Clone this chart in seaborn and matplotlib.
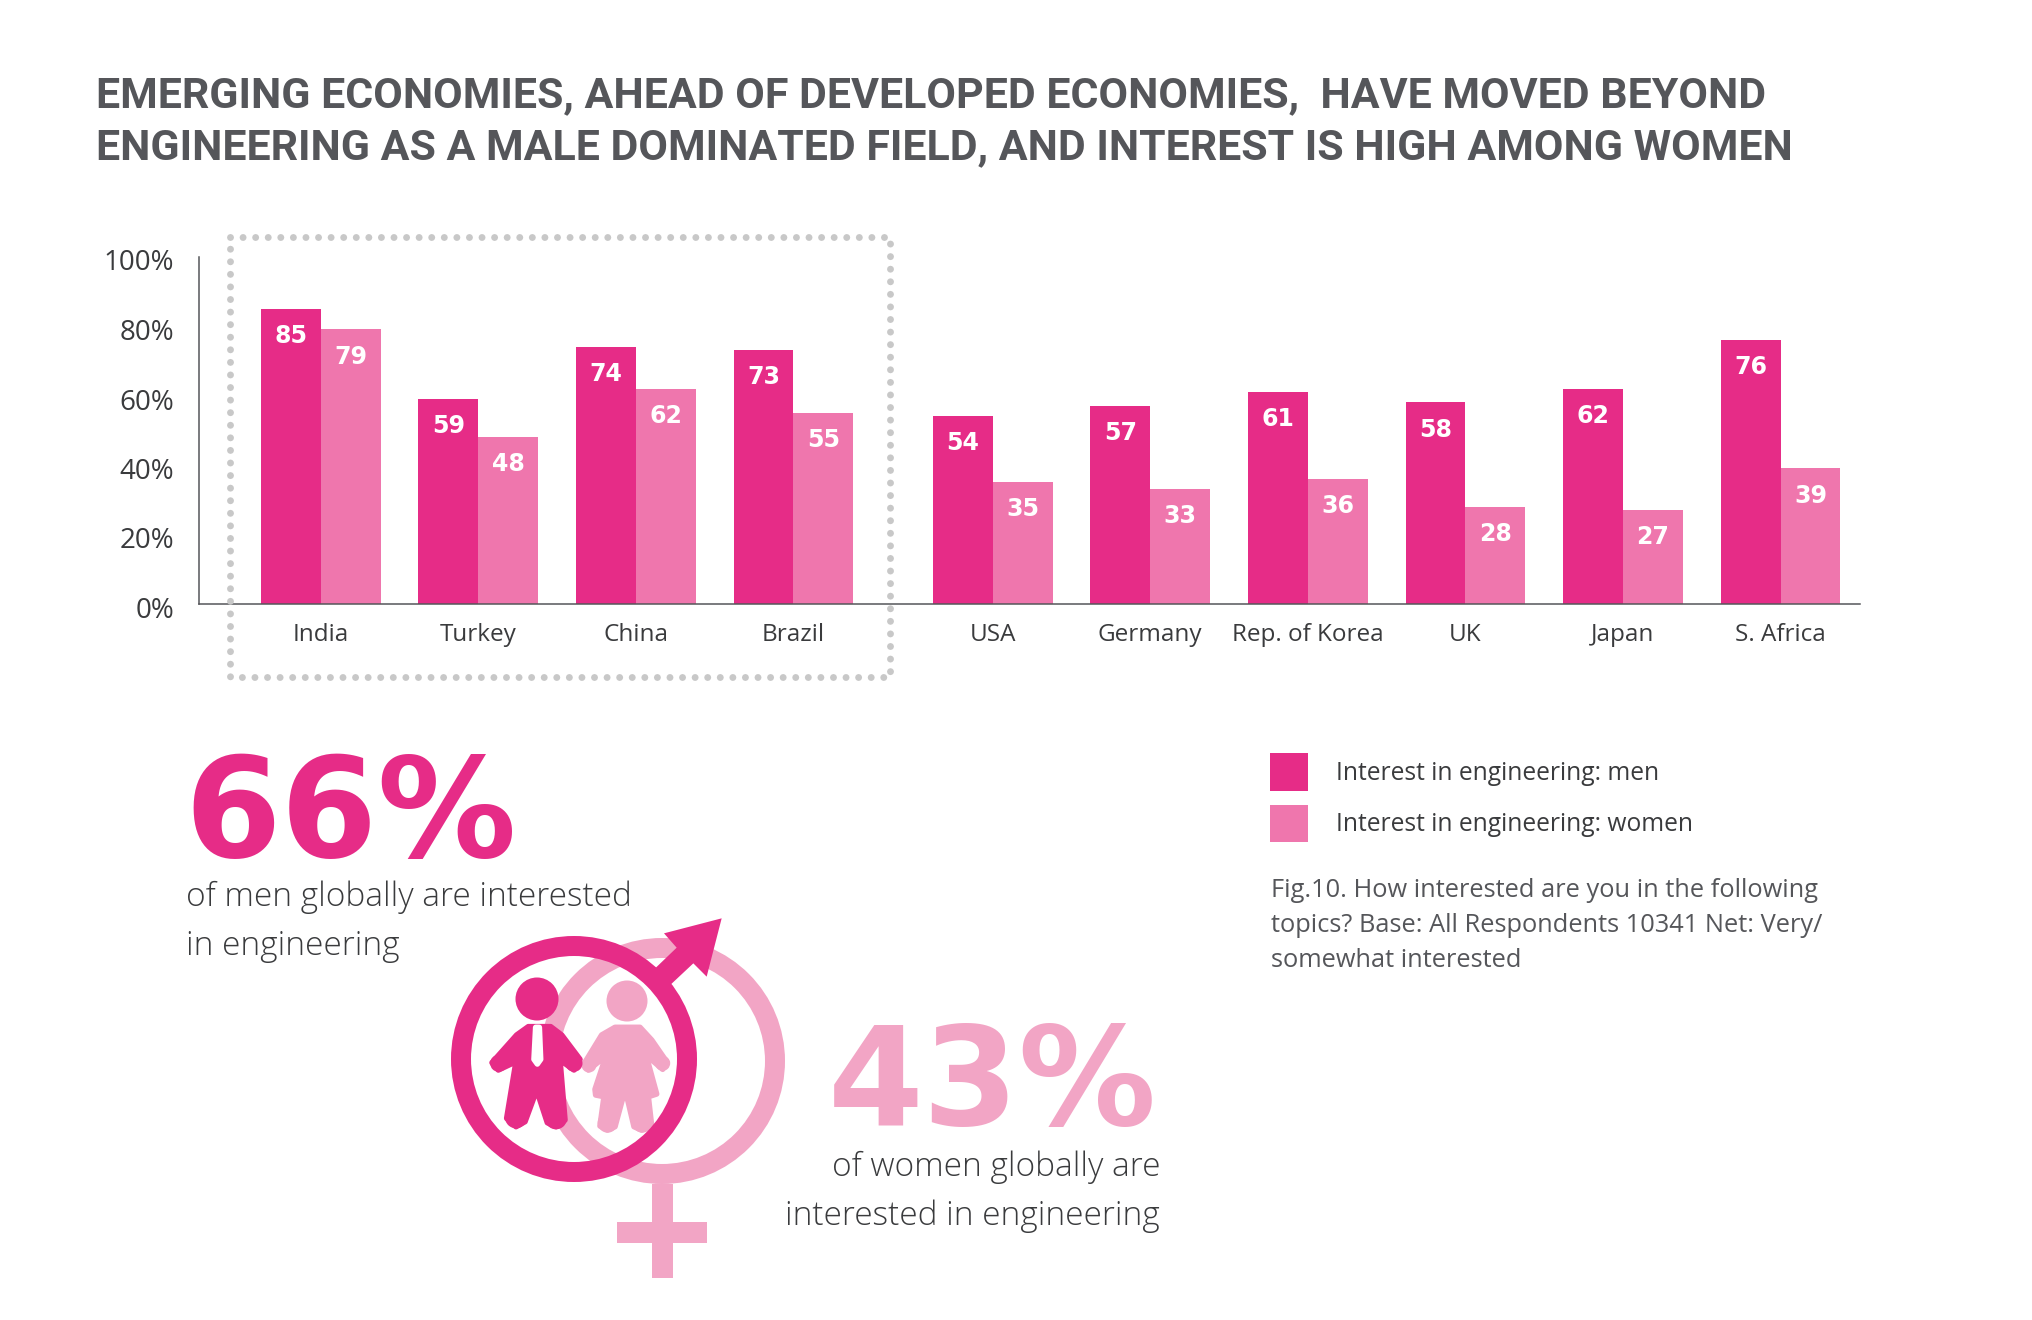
import matplotlib
matplotlib.use("Agg")
import matplotlib.pyplot as plt
from matplotlib.patches import Circle, Polygon, Rectangle
from matplotlib.transforms import ScaledTranslation
import numpy as np
import pandas as pd
import seaborn as sns

countries = ["India", "Turkey", "China", "Brazil", "USA", "Germany", "Rep. of Korea", "UK", "Japan", "S. Africa"]
men = [85, 59, 74, 73, 54, 57, 61, 58, 62, 76]
women = [79, 48, 62, 55, 35, 33, 36, 28, 27, 39]
y_ticks = [0, 20, 40, 60, 80, 100]

MEN_LABEL = "Interest in engineering: men"
WOMEN_LABEL = "Interest in engineering: women"

PINK = "#E62C87"
MID = "#EF76AD"
PALE = "#F2A5C5"
DARK = "#3A3B3D"
TITLE_GREY = "#55565A"
W, H = 2032, 1320

sns.set_theme(style="white")
plt.rcParams["font.family"] = ["Open Sans", "DejaVu Sans"]

fig = plt.figure(figsize=(W / 100, H / 100), dpi=100, facecolor="white")
ax = fig.add_axes([199 / W, 1 - 604 / H, (1860 - 199) / W, (604 - 256.5) / H])

# the first four countries sit apart from the others
pos = np.arange(len(countries)) + np.where(np.arange(len(countries)) >= 4, 0.264, 0.0)
df = pd.DataFrame({"pos": pos, MEN_LABEL: men, WOMEN_LABEL: women})
df = df.melt(id_vars="pos", var_name="series", value_name="value")

sns.barplot(
    data=df, x="pos", y="value", hue="series", native_scale=True,
    palette=[PINK, MID], width=0.76, gap=0, saturation=1, errorbar=None, linewidth=0, ax=ax,
)

ax.set_xlim(-0.772, 9.768)
ax.set_ylim(0, 100)
ax.set_xlabel("")
ax.set_ylabel("")
ax.set_xticks(pos)
ax.set_xticklabels(countries, fontsize=17.5, color=DARK)
ax.set_yticks(y_ticks)
ax.set_yticklabels([f"{t}%" for t in y_ticks], fontsize=20, color=DARK)
ax.tick_params(axis="x", length=0, pad=14)
ax.tick_params(axis="y", length=0, pad=18)
for lab in ax.get_yticklabels():
    lab.set_transform(lab.get_transform() + ScaledTranslation(0, -3.5 / 100, fig.dpi_scale_trans))
sns.despine(ax=ax)
for side in ["left", "bottom"]:
    ax.spines[side].set_color("#55565A")
    ax.spines[side].set_linewidth(1.1)

for c in ax.containers:
    labels = ax.bar_label(c, fmt="%d", label_type="edge", padding=-19.5, color="white",
                          fontsize=17, fontweight="bold", family="DejaVu Sans")
    for lab in labels:
        lab.set_va("center")

sns.move_legend(
    ax, loc="upper left", bbox_to_anchor=(1270 / W, 1 - 753 / H), bbox_transform=fig.transFigure,
    title=None, frameon=False, fontsize=17.7, borderpad=0, borderaxespad=0,
    handlelength=1.55, handleheight=1.98, labelspacing=0.57, handletextpad=1.12,
)
for t in ax.get_legend().get_texts():
    t.set_color(DARK)

# overlay in pixel coordinates for the headline, call-outs and icons
ov = fig.add_axes([0, 0, 1, 1], zorder=5)
ov.set_xlim(0, W)
ov.set_ylim(H, 0)
ov.axis("off")
ov.patch.set_alpha(0)

ov.text(96, 96, "EMERGING ECONOMIES, AHEAD OF DEVELOPED ECONOMIES,  HAVE MOVED BEYOND",
        fontsize=30.9, fontweight="bold", family="Roboto", color=TITLE_GREY, va="center")
ov.text(96, 148, "ENGINEERING AS A MALE DOMINATED FIELD, AND INTEREST IS HIGH AMONG WOMEN",
        fontsize=30.9, fontweight="bold", family="Roboto", color=TITLE_GREY, va="center")

# dotted highlight box
ov.plot([230, 890, 890, 230, 230], [237, 237, 677, 677, 237], color="#C8C8C8", lw=5,
        linestyle=(0, (0.001, 1.81)), dash_capstyle="round")

ov.text(184, 857, "66%", fontsize=100, fontweight="bold", family="DejaVu Sans", color=PINK, va="baseline")
ov.text(186, 906, "of men globally are interested", fontsize=24, fontweight="light", color=DARK, va="baseline")
ov.text(186, 955, "in engineering", fontsize=24, fontweight="light", color=DARK, va="baseline")

ov.text(1157, 1125, "43%", fontsize=99, fontweight="bold", family="DejaVu Sans", color=PALE, va="baseline", ha="right")
ov.text(1160, 1176, "of women globally are", fontsize=24, fontweight="light", color=DARK, va="baseline", ha="right")
ov.text(1160, 1225, "interested in engineering", fontsize=24, fontweight="light", color=DARK, va="baseline", ha="right")

ov.text(1271, 897, "Fig.10. How interested are you in the following", fontsize=18.3, color=TITLE_GREY, va="baseline")
ov.text(1271, 932, "topics? Base: All Respondents 10341 Net: Very/", fontsize=18.3, color=TITLE_GREY, va="baseline")
ov.text(1271, 967, "somewhat interested", fontsize=18.3, color=TITLE_GREY, va="baseline")


def icon(points):
    # outline points measured on a 3x crop starting at (420, 900)
    return [(420 + x / 3, 900 + y / 3) for x, y in points]


def blob(points, color, z):
    ov.add_patch(Polygon(icon(points), closed=True, fc=color, ec=color, lw=4, joinstyle="round", zorder=z))


def ends(points, r, color, z):
    # rounded hands and feet of the figures
    for xy in icon(points):
        ov.add_patch(Circle(xy, r, fc=color, ec="none", zorder=z))


# female symbol
ov.add_patch(Circle((662, 1061), 113, fc="none", ec=PALE, lw=14.4, zorder=2))
ov.add_patch(Rectangle((652, 1184), 21, 94, fc=PALE, ec="none", zorder=2))
ov.add_patch(Rectangle((617, 1222), 90, 21, fc=PALE, ec="none", zorder=2))

# woman
ov.add_patch(Circle((627, 1001), 20.5, fc=PALE, ec="none", zorder=3))
blob([(585, 382), (660, 382), (695, 420), (742, 488), (728, 508), (678, 465), (710, 582), (685, 590),
      (695, 678), (665, 690), (642, 680), (622, 595), (608, 595), (585, 680), (562, 690), (540, 678),
      (552, 590), (527, 585), (525, 568), (558, 468), (505, 510), (490, 495), (545, 405)], PALE, 3)
ends([(563, 668), (667, 668)], 10, PALE, 3)
ends([(507, 495), (728, 490)], 7.5, PALE, 3)

# man
ov.add_patch(Circle((537, 999), 21.5, fc=PINK, ec="none", zorder=3))
blob([(325, 380), (392, 380), (425, 405), (480, 478), (462, 510), (420, 480), (435, 660), (408, 680),
      (382, 668), (350, 570), (315, 665), (288, 680), (260, 655), (288, 485), (235, 510), (216, 488), (290, 405)],
     PINK, 4)
ends([(288, 652), (408, 655)], 11, PINK, 4)
ends([(236, 490), (462, 490)], 8.5, PINK, 4)
blob([(347, 382), (358, 382), (362, 478), (352, 492), (342, 478)], "white", 4.5)

# male symbol
ov.add_patch(Circle((574, 1059), 113, fc="none", ec=PINK, lw=14.4, zorder=6))
ov.add_patch(Polygon(icon([(905, 55), (732, 100), (770, 143), (695, 215), (740, 265), (820, 190), (860, 230)]),
                     closed=True, fc=PINK, ec="none", zorder=6))

fig.savefig("out.png", dpi=100)
